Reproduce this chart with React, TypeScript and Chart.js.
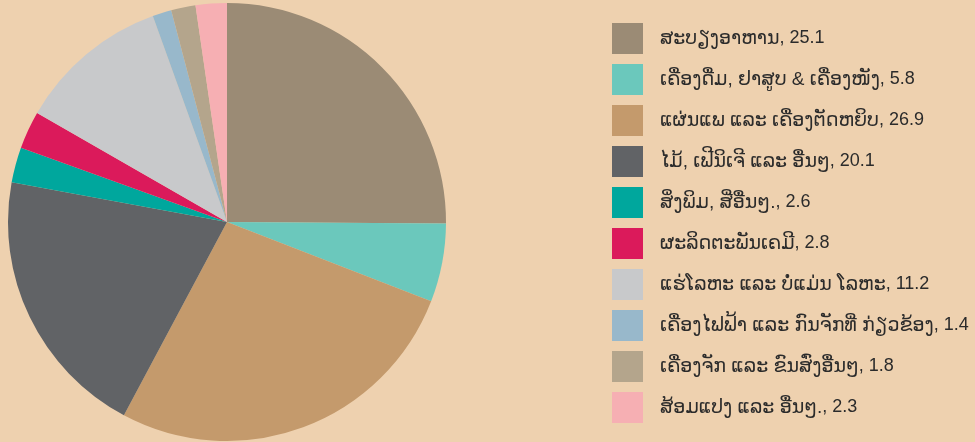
import React, { useEffect, useRef } from "react";
import { Chart, registerables } from "chart.js";

Chart.register(...registerables);

const categories: string[] = [
  "ສະບຽງອາຫານ",
  "ເຄື່ອງດື່ມ, ຢາສູບ & ເຄື່ອງໜັງ",
  "ແຜ່ນແພ ແລະ ເຄື່ອງຕັດຫຍິບ",
  "ໄມ້, ເຟີນິເຈີ ແລະ ອື່ນໆ",
  "ສິ່ງພິມ, ສີ່ອື່ນໆ.",
  "ຜະລິດຕະພັນເຄມີ",
  "ແຮ່ໂລຫະ ແລະ ບໍ່ແມ່ນ ໂລຫະ",
  "ເຄື່ອງໄຟຟ້າ ແລະ ກົນຈັກທີ່ ກ່ຽວຂ້ອງ",
  "ເຄື່ອງຈັກ ແລະ ຂົນສົ່ງອື່ນໆ",
  "ສ້ອມແປງ ແລະ ອື່ນໆ.",
];

const shares: number[] = [25.1, 5.8, 26.9, 20.1, 2.6, 2.8, 11.2, 1.4, 1.8, 2.3];

const sliceColors: string[] = [
  "#9b8b75",
  "#6bc8bc",
  "#c49a6c",
  "#616366",
  "#00a79d",
  "#db1a5b",
  "#c8c9cb",
  "#98b8cb",
  "#b4a58c",
  "#f6afb3",
];

const BG = "#eed1af";
const LAO_FONT = "19px 'Liberation Sans', 'DejaVu Sans', Arial, sans-serif";
const NUM_FONT = "18px 'Liberation Sans', Arial, sans-serif";

const legendPlugin = {
  id: "sideLegend",
  afterDraw(chart: any) {
    const ctx = chart.ctx as CanvasRenderingContext2D;
    ctx.save();
    ctx.textBaseline = "middle";
    const boxX = 612;
    const boxTop = 23;
    const box = 31;
    const step = 41;
    categories.forEach((c, i) => {
      const y = boxTop + i * step;
      ctx.fillStyle = sliceColors[i];
      ctx.fillRect(boxX, y, box, box);
      ctx.fillStyle = "#2b2b2b";
      ctx.font = LAO_FONT;
      ctx.fillText(c, 660, y + box / 2);
      const w = ctx.measureText(c).width;
      ctx.font = NUM_FONT;
      ctx.fillText(`, ${shares[i]}`, 660 + w, y + box / 2);
    });
    ctx.restore();
  },
};

export default function App() {
  const ref = useRef<HTMLCanvasElement>(null);
  useEffect(() => {
    document.body.style.margin = "0";
    const chart = new Chart(ref.current!, {
      type: "pie",
      data: {
        labels: categories,
        datasets: [
          {
            data: shares,
            backgroundColor: sliceColors,
            borderWidth: 0,
          },
        ],
      },
      options: {
        animation: false,
        responsive: false,
        layout: { padding: { left: 8, top: 3, bottom: 1, right: 529 } },
        plugins: {
          legend: { display: false },
          tooltip: { enabled: false },
        },
      },
      plugins: [legendPlugin],
    });
    return () => chart.destroy();
  }, []);
  return (
    <div style={{ width: 975, height: 442, background: BG, position: "absolute", left: 0, top: 0 }}>
      <canvas ref={ref} width={975} height={442} style={{ display: "block" }} />
    </div>
  );
}
